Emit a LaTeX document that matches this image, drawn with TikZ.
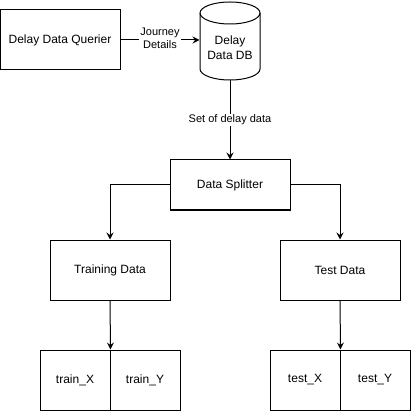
\documentclass[tikz,border=0pt]{standalone}
\usepackage{fontspec}
\setmainfont{Liberation Sans}
\usetikzlibrary{arrows.meta,calc}
\begin{document}
\begin{tikzpicture}[x=1pt,y=1pt,line width=1pt,
  box/.style={draw,fill=white,minimum width=120pt,minimum height=60pt,inner sep=0pt,font=\fontsize{12}{14}\selectfont},
  half/.style={draw,fill=white,minimum width=70pt,minimum height=60pt,inner sep=0pt,font=\fontsize{12}{14}\selectfont},
  elabel/.style={fill=white,inner sep=1pt,font=\fontsize{11}{12}\selectfont,align=center},
  arr/.style={-{Stealth[length=7pt,width=7pt,inset=2.5pt]}}]
\useasboundingbox (0,0) rectangle (411,-411);
% Querier
\node[box] (q) at (60,-40) {Delay Data Querier};
% DB cylinder
\node[minimum width=60pt,minimum height=78pt,inner sep=0pt] (db) at (230,-41) {};
\draw[fill=white] (200,-13) -- (200,-69) arc[start angle=180,end angle=360,x radius=30,y radius=11]
  -- (260,-13) arc[start angle=0,end angle=180,x radius=30,y radius=11] -- cycle;
\draw (200,-13) arc[start angle=180,end angle=360,x radius=30,y radius=11];
\node[align=center,font=\fontsize{12}{15}\selectfont] (dbt) at (230,-48) {Delay\\Data DB};
% splitter
\node[box,minimum height=50pt] (split) at (230,-185) {Data Splitter};
\node[box] (train) at (110,-270) {Training Data};
\node[box] (test) at (340,-270) {Test Data};
\node[half] (tx) at (75,-380) {train\_X};
\node[half] (ty) at (145,-380) {train\_Y};
\node[half] (sx) at (305,-380) {test\_X};
\node[half] (sy) at (375,-380) {test\_Y};
% connectors
\draw[arr] (q.east) -- node[elabel,font=\fontsize{11}{13}\selectfont,yshift=2pt] (jl) {Journey\\Details} (q.east -| db.west);
\draw[arr] (db.south) -- node[elabel] (sl) {Set of delay data} (split.north);
\draw[arr] (split.west) -| (train.north);
\draw[arr] (split.east) -| (test.north);
\draw[arr] (train.south) -- (tx.north east);
\draw[arr] (test.south) -- (sx.north east);
\end{tikzpicture}
\end{document}
